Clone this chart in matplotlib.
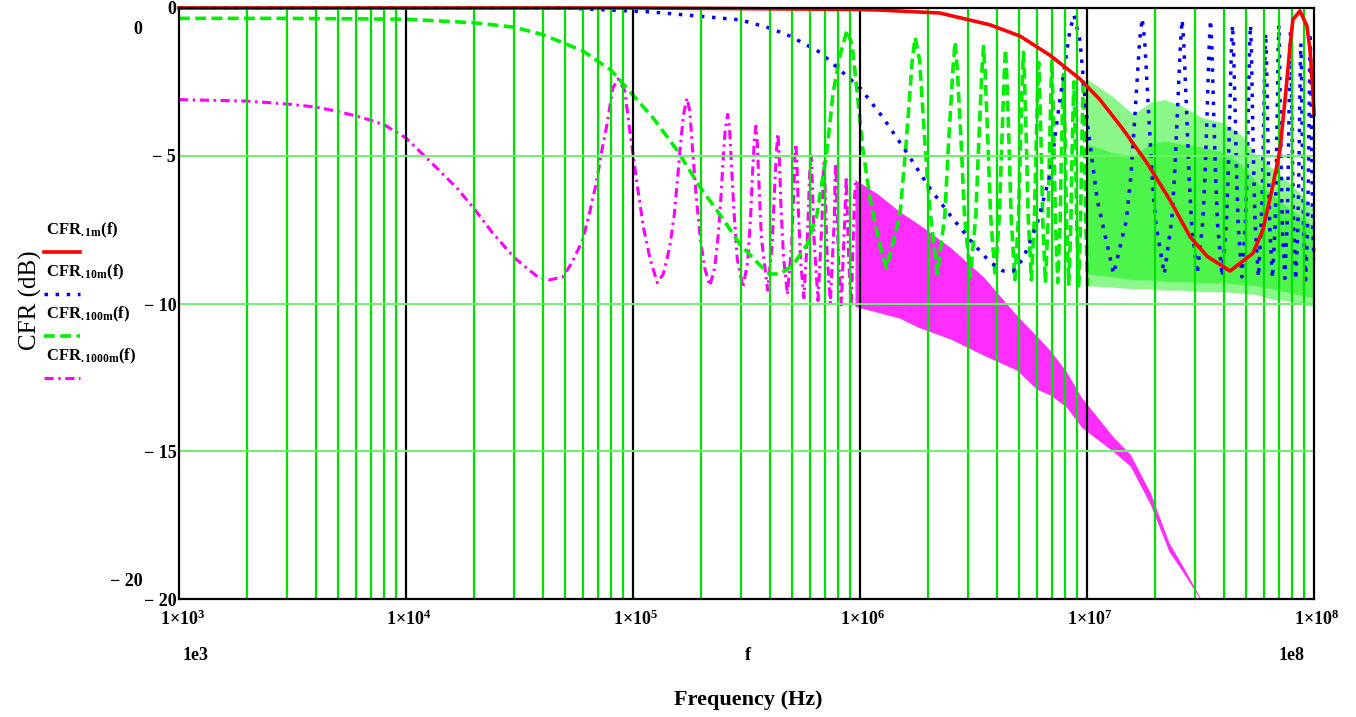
import numpy as np
import matplotlib
matplotlib.use("Agg")
import matplotlib.pyplot as plt
from matplotlib.lines import Line2D

plt.rcParams['mathtext.fontset'] = 'custom'
plt.rcParams['mathtext.rm'] = 'Liberation Serif'
plt.rcParams['mathtext.bf'] = 'Liberation Serif:bold'
plt.rcParams['mathtext.it'] = 'Liberation Serif:italic'

# ---- CFR.1m : smooth roll-off with one resonance near 87 MHz (f in MHz)
red_f = [0.001, 0.1, 0.3, 1.0, 1.22, 2.25, 3.74, 5.07, 6.87, 9.31, 11.4, 14.4, 18.4,
         23.2, 28.5, 33.8, 42.7, 53.8, 59.6, 65.9, 70.8, 75.0, 78.4, 80.7, 86.7,
         93.0, 96.0, 99.0, 100.0]
red_db = [0, 0, -0.02, -0.05, -0.07, -0.17, -0.57, -0.95, -1.6, -2.4, -3.1, -4.1, -5.25,
          -6.5, -7.75, -8.4, -8.9, -8.3, -7.5, -6.0, -4.8, -2.9, -1.3, -0.4, -0.1,
          -0.6, -1.4, -2.9, -3.6]

# ---- CFR.10m (f in MHz)
blue_f = [0.001, 0.05, 0.119, 0.296, 0.401, 0.492, 0.667, 0.817, 1.0, 1.26, 1.61, 2.03,
          2.49, 3.05, 3.74, 4.27, 4.72, 5.22, 6.03, 6.87, 7.6, 8.41, 8.77, 9.31, 10.0,
          11.1, 13.1,
          14.9, 15.6, 16.3, 17.05, 17.5, 17.95, 18.7, 19.4, 20.1, 21.9,
          23.6, 24.3, 25.0, 25.8, 26.25, 26.7, 27.5, 28.2, 28.9, 30.6,
          32.4, 33.1, 33.8, 34.55, 35.0, 35.45, 36.2, 36.9, 37.6, 39.4,
          41.1, 41.8, 42.5, 43.3, 43.75, 44.2, 45.0, 45.7, 46.4, 48.1,
          49.9, 50.6, 51.3, 52.05, 52.5, 52.95, 53.7, 54.4, 55.1, 56.9,
          58.6, 59.3, 60.0, 60.8, 61.25, 61.7, 62.5, 63.2, 63.9, 65.6,
          67.4, 68.1, 68.8, 69.55, 70.0, 70.45, 71.2, 71.9, 72.6, 74.4,
          76.1, 76.8, 77.5, 78.3, 78.75, 79.2, 80.0, 80.7, 81.4, 83.1,
          84.9, 85.6, 86.3, 87.05, 87.5, 87.95, 88.7, 89.4, 90.1, 91.9,
          93.6, 94.3, 95.0, 95.8, 96.25, 96.7, 97.5, 98.2, 98.9, 100.0]
blue_db = [0, 0, -0.13, -0.4, -0.68, -0.95, -1.5, -2.1, -2.7, -3.7, -4.9, -6.1,
           -7.0, -7.85, -8.6, -8.9, -8.9, -8.5, -7.3, -5.65, -3.1, -0.75, -0.25, -1.1, -3.8,
           -6.5, -9.0,
           -7.2, -5.7, -3.5, -1.1, -0.35, -1.1, -3.6, -5.8, -7.3, -9.0,
           -7.2, -5.7, -3.6, -1.2, -0.4, -1.2, -3.6, -5.8, -7.3, -9.0,
           -7.2, -5.7, -3.6, -1.2, -0.4, -1.2, -3.7, -5.8, -7.3, -9.1,
           -7.3, -5.8, -3.7, -1.3, -0.58, -1.3, -3.7, -5.9, -7.4, -9.1,
           -7.3, -5.8, -3.7, -1.3, -0.58, -1.3, -3.8, -5.9, -7.4, -9.1,
           -7.3, -5.9, -3.8, -1.6, -0.85, -1.6, -3.9, -6.0, -7.5, -9.15,
           -7.4, -5.9, -3.8, -1.4, -0.58, -1.4, -3.9, -6.0, -7.5, -9.15,
           -7.4, -6.0, -3.9, -1.5, -0.8, -1.5, -4.0, -6.0, -7.5, -9.2,
           -7.4, -6.0, -4.0, -1.9, -1.2, -1.9, -4.1, -6.1, -7.6, -9.2,
           -7.5, -6.1, -4.1, -1.7, -1.0, -1.7, -4.1, -6.2, -7.6, -8.5]

# ---- CFR.100m : resolved part up to 10 MHz (f in MHz)
green_f = [0.001, 0.003, 0.01, 0.02, 0.03, 0.04, 0.05, 0.06, 0.07, 0.08, 0.1, 0.122,
           0.156, 0.197, 0.242, 0.296, 0.362, 0.40, 0.445, 0.507, 0.585, 0.646, 0.716,
           0.76, 0.817, 0.877, 0.923, 0.97, 1.03, 1.11, 1.22, 1.31,
           1.5, 1.6, 1.7, 1.75, 1.83, 1.94, 2.03, 2.19,
           2.365, 2.45, 2.565, 2.625, 2.685, 2.8, 2.885, 3.06,
           3.24, 3.325, 3.44, 3.5, 3.56, 3.675, 3.76, 3.94,
           4.115, 4.2, 4.315, 4.375, 4.435, 4.55, 4.635, 4.81,
           4.99, 5.075, 5.19, 5.25, 5.31, 5.425, 5.51, 5.69,
           5.865, 5.95, 6.065, 6.125, 6.185, 6.3, 6.385, 6.56,
           6.74, 6.825, 6.94, 7.0, 7.06, 7.175, 7.26, 7.44,
           7.615, 7.7, 7.815, 7.875, 7.935, 8.05, 8.135, 8.31,
           8.49, 8.575, 8.69, 8.75, 8.81, 8.925, 9.01, 9.19,
           9.365, 9.45, 9.565, 9.625, 9.685, 9.8, 9.885, 10.06]
green_db = [-0.35, -0.35, -0.38, -0.5, -0.65, -0.9, -1.2, -1.45, -1.8, -2.1, -2.95, -3.7,
            -4.8, -6.05, -7.0, -8.0, -8.7, -9.0, -9.0, -8.7, -8.0, -7.0, -4.8,
            -2.9, -1.6, -0.75, -1.25, -2.8, -4.8, -6.5, -8.0, -8.8,
            -7.0, -4.5, -1.75, -1.0, -1.75, -4.8, -6.8, -9.0,
            -7.0, -4.7, -2.1, -1.15, -2.1, -4.8, -7.0, -9.1,
            -7.0, -4.8, -2.2, -1.3, -2.2, -4.9, -7.0, -9.1,
            -7.0, -4.9, -2.3, -1.4, -2.3, -5.0, -7.1, -9.2,
            -7.1, -5.0, -2.4, -1.5, -2.4, -5.0, -7.1, -9.2,
            -7.1, -5.1, -2.7, -1.85, -2.7, -5.1, -7.2, -9.3,
            -7.2, -5.1, -2.7, -1.8, -2.7, -5.2, -7.2, -9.3,
            -7.2, -5.2, -3.1, -2.25, -3.1, -5.3, -7.3, -9.35,
            -7.3, -5.3, -3.3, -2.5, -3.3, -5.4, -7.3, -9.4,
            -7.3, -5.4, -3.2, -2.4, -3.2, -5.4, -7.4, -9.4]
# above 10 MHz the ripple is too dense to resolve: outer envelope and dense core
green_band_f = [10, 13, 16, 19, 22, 26, 32, 40, 48, 56, 65, 75, 85, 100]
green_band_hi = [-2.4, -3.0, -3.6, -3.2, -3.1, -3.3, -3.7, -3.9, -4.3, -5.0, -5.4, -5.8, -6.2, -6.8]
green_band_lo = [-9.4, -9.45, -9.5, -9.5, -9.55, -9.55, -9.6, -9.6, -9.65, -9.7, -9.85, -9.9, -10.0, -10.1]
green_core_hi = [-4.6, -4.9, -5.0, -4.6, -4.5, -4.6, -4.7, -4.9, -5.3, -5.9, -6.3, -6.7, -7.0, -7.4]
green_core_lo = [-9.0, -9.1, -9.2, -9.2, -9.25, -9.25, -9.3, -9.3, -9.35, -9.4, -9.5, -9.6, -9.7, -9.8]

# ---- CFR.1000m : resolved part up to ~1 MHz (f in kHz)
mag_f = [1, 2, 3, 4, 5, 6, 7, 8, 10, 12.8, 16.8, 20, 24, 30, 38, 43, 49, 54, 60, 64.5,
         69, 73, 77, 81.5, 86, 92, 97, 104, 111, 119, 128,
         136, 145, 152, 157, 162, 167, 173, 178, 183, 190, 198, 207, 218,
         229, 238, 245, 250, 255, 261, 266, 271, 278, 288, 305,
         320, 330, 337, 343, 348, 353, 359, 368, 392,
         410, 420, 428, 435, 441, 448, 460, 479,
         500, 510, 516, 522, 528, 536, 548, 566,
         588, 600, 609, 617, 627, 653,
         680, 690, 696, 703, 715, 740,
         770, 778, 783, 790, 803, 827,
         860, 870, 878, 893, 914, 945, 957]
mag_db = [-3.1, -3.15, -3.25, -3.35, -3.5, -3.65, -3.8, -3.95, -4.4, -5.2, -6.1, -6.8,
          -7.6, -8.45, -9.1, -9.2, -9.1, -8.6, -7.85, -6.9,
          -5.9, -4.8, -3.9, -2.7, -2.4, -2.8, -4.2, -5.9, -7.4, -8.5, -9.3,
          -9.0, -8.1, -7.0, -5.8, -4.6, -3.6, -3.05, -3.5, -4.8, -6.4, -7.8, -8.8, -9.4,
          -8.8, -7.6, -6.2, -5.0, -4.1, -3.6, -4.0, -5.2, -6.8, -8.5, -9.45,
          -8.6, -7.0, -5.4, -4.4, -4.0, -4.6, -6.0, -7.8, -9.55,
          -8.0, -6.2, -4.9, -4.25, -5.0, -6.6, -8.4, -9.7,
          -8.0, -6.3, -5.1, -4.6, -5.4, -7.0, -8.6, -9.8,
          -7.6, -5.6, -5.0, -6.0, -7.8, -9.9,
          -7.2, -5.5, -5.15, -6.3, -8.2, -10.0,
          -7.2, -5.6, -5.25, -6.5, -8.4, -10.05,
          -6.8, -5.7, -6.8, -8.6, -10.1, -6.5, -5.8]
# dense ripple band above ~1 MHz (f in MHz)
mag_band_f = [0.95, 1.2, 1.5, 1.8, 2.5, 3.5, 4.9, 6.0, 6.9, 8.1, 9.5, 13, 15.5, 19, 23, 26.5, 31.5]
mag_band_hi = [-5.8, -6.3, -6.9, -7.3, -8.1, -9.1, -10.4, -11.1, -11.6, -12.3, -13.2, -14.5,
               -15.1, -16.4, -18.1, -18.9, -19.95]
mag_band_lo = [-10.1, -10.3, -10.5, -10.8, -11.2, -11.75, -12.25, -12.9, -13.1, -13.5, -14.2,
               -15.0, -15.5, -16.8, -18.4, -19.1, -20.0]

W, H = 1356, 717
fig = plt.figure(figsize=(W / 100, H / 100), dpi=100)
ax = fig.add_axes([179 / W, 1 - 599 / H, (1314 - 179) / W, (599 - 8) / H])
ax.set_xscale('log')
ax.set_xlim(1e3, 1e8)
ax.set_ylim(-20, 0)

# grid: green minor decades, black decade lines, green horizontal lines
for dec in range(3, 8):
    for k in range(2, 10):
        ax.axvline(k * 10 ** dec, color='#00e000', lw=1.6, zorder=4)
for dec in range(4, 8):
    ax.axvline(10 ** dec, color='black', lw=1.6, zorder=4)
for yv in (-5, -10, -15):
    ax.axhline(yv, color='#70f070', lw=1.4, zorder=4)

red_c, blue_c, green_c, mag_c = '#ff0000', '#0000ff', '#00f000', '#ff00ff'

gf = np.array(green_band_f) * 1e6
ax.fill_between(gf, green_band_lo, green_band_hi, color=green_c, alpha=0.45, lw=0, zorder=2)
ax.fill_between(gf, green_core_lo, green_core_hi, color=green_c, alpha=0.45, lw=0, zorder=2)
ax.fill_between(np.array(mag_band_f) * 1e6, mag_band_lo, mag_band_hi,
                color=mag_c, alpha=0.82, lw=0, zorder=2)

ax.plot(np.array(mag_f) * 1e3, mag_db, color=mag_c, lw=2.2,
        linestyle=(0, (3, 1.5, 0.8, 1.5)), zorder=3)
ax.plot(np.array(green_f) * 1e6, green_db, color=green_c, lw=2.6,
        linestyle=(0, (3, 1.5)), zorder=3)
ax.plot(np.array(blue_f) * 1e6, blue_db, color=blue_c, lw=2.5,
        linestyle=(0, (1, 2.2)), zorder=3, clip_on=False)
ax.plot(np.array(red_f) * 1e6, red_db, color=red_c, lw=2.6, zorder=5, clip_on=False)

for sp in ax.spines.values():
    sp.set_color('black')
    sp.set_linewidth(1.6)
    sp.set_zorder(6)
ax.set_xticks([])
ax.set_yticks([])
ax.minorticks_off()


def put(txt, x, y, **kw):
    fig.text(x / W, 1 - y / H, txt, **kw)


bold = dict(family='Liberation Serif', weight='bold', va='center')
put('0', 176, 10, ha='right', fontsize=13, **bold)
put('0', 138, 30, ha='center', fontsize=13, **bold)
put('\u2212 5', 176, 157, ha='right', fontsize=13, **bold)
put('\u2212 10', 177, 307, ha='right', fontsize=13, **bold)
put('\u2212 15', 177, 454, ha='right', fontsize=13, **bold)
put('\u2212 20', 143, 582, ha='right', fontsize=13, **bold)
put('\u2212 20', 177, 601, ha='right', fontsize=13, **bold)

for dec, xp in zip(range(3, 9), [183, 409, 636, 863, 1090, 1317]):
    put(r'$\mathbf{1{\times}10^{%d}}$' % dec, xp, 625, ha='center', fontsize=13)
put('1e3', 183, 655, ha='left', fontsize=13, **bold)
put('f', 748, 655, ha='center', fontsize=13, **bold)
put('1e8', 1305, 655, ha='right', fontsize=13, **bold)
put('Frequency (Hz)', 748, 700, ha='center', fontsize=16, **bold)
put('CFR (dB)', 30, 300, ha='center', va='center', rotation=90, fontsize=18,
    family='Liberation Serif')

# legend
legend_names = ['.1m', '.10m', '.100m', '.1000m']
legend_styles = [dict(color=red_c, lw=2.6),
                 dict(color=blue_c, lw=2.5, linestyle=(0, (1, 2.2))),
                 dict(color=green_c, lw=2.6, linestyle=(0, (3, 1.5))),
                 dict(color=mag_c, lw=2.2, linestyle=(0, (3, 1.5, 0.8, 1.5)))]
for i, (name, st) in enumerate(zip(legend_names, legend_styles)):
    ty = 230 + 42 * i
    put(r'$\mathbf{CFR}_{\mathbf{%s}}\mathbf{(f)}$' % name, 46, ty, ha='left', va='center',
        fontsize=12)
    ly = 1 - (ty + 22) / H
    fig.add_artist(Line2D([44 / W, 80 / W], [ly, ly], transform=fig.transFigure, **st))

fig.savefig('out.png', dpi=100)
